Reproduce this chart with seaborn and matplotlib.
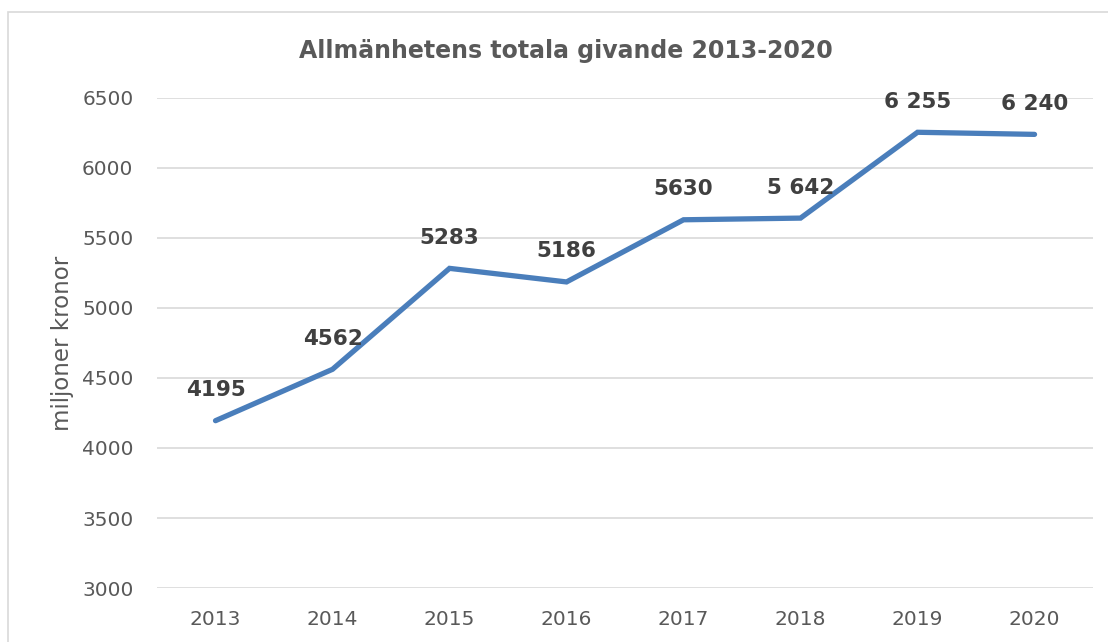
import matplotlib
matplotlib.use("Agg")
import matplotlib.pyplot as plt
import seaborn as sns
import pandas as pd

# data
years = ["2013", "2014", "2015", "2016", "2017", "2018", "2019", "2020"]
givande = [4195, 4562, 5283, 5186, 5630, 5642, 6255, 6240]
labels = ["4195", "4562", "5283", "5186", "5630", "5 642", "6 255", "6 240"]
yticks = [3000, 3500, 4000, 4500, 5000, 5500, 6000, 6500]

sns.set_theme(style="white")
plt.rcParams['font.family'] = ['DejaVu Sans']

df = pd.DataFrame({"year": years, "value": givande})

fig = plt.figure(figsize=(11.08, 6.42), dpi=100)
ax = fig.add_axes([0.1417, 0.0841, 0.8448, 0.7633])

sns.lineplot(data=df, x="year", y="value", ax=ax, color="#4A7EBB",
             linewidth=3.8, solid_capstyle="round", solid_joinstyle="miter")

for i, (v, lab) in enumerate(zip(givande, labels)):
    ax.annotate(lab, (i, v), xytext=(0, 22), textcoords="offset points",
                ha="center", va="center", fontsize=15.5, fontweight="bold",
                color="#404040")

ax.set_xlim(-0.5, len(years) - 0.5)
ax.set_ylim(3000, 6500)
ax.set_yticks(yticks)
ax.set_yticklabels([str(t) for t in yticks])
ax.grid(axis="y", color="#D9D9D9", linewidth=1.2)
ax.grid(axis="x", visible=False)
for s in ax.spines.values():
    s.set_visible(False)
ax.tick_params(axis="both", length=0, labelsize=14.5, labelcolor="#595959")
ax.tick_params(axis="x", pad=16)
ax.tick_params(axis="y", pad=17)

ax.set_xlabel("")
ax.set_ylabel("miljoner kronor", fontsize=16.5, color="#595959", labelpad=6)

fig.text(0.511, 0.921, "Allmänhetens totala givande 2013-2020", ha="center",
         va="center", fontsize=17, fontweight="bold", color="#595959")

# chart frame (right and bottom edges lie outside the picture)
fig.add_artist(plt.Rectangle((0.0072, -0.1), 1.1, 1.081,
                             transform=fig.transFigure, fill=False,
                             edgecolor="#D9D9D9", linewidth=1.2))

fig.savefig("out.png", dpi=100)
